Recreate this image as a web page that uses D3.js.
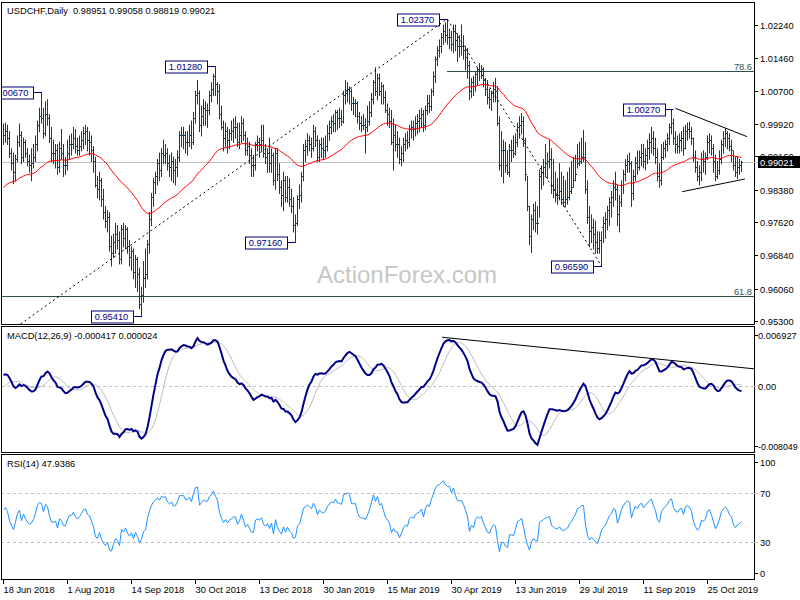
<!DOCTYPE html>
<html><head><meta charset="utf-8">
<script src="https://cdn.jsdelivr.net/npm/d3@7/dist/d3.min.js"></script>
<style>body{margin:0;background:#fff}svg{display:block}text{font-family:"Liberation Sans",Arial,sans-serif}</style>
</head><body><svg id="c" width="800" height="600"></svg>
<script>
// ---------- DATA (daily USDCHF, 18 Jun 2018 .. 19 Nov 2019) ----------
const high=[
.9993,.9995,.9990,.9975,.9935,.9925,.9920,.9965,.9993,.9975,
.9960,.9955,.9935,.9920,.9935,.9945,.9965,1.0000,1.0030,1.0067,
1.0030,1.0045,1.0050,1.0015,.9985,.9955,.9945,.9945,.9950,.9980,
.9945,.9915,.9955,.9965,.9970,.9985,.9980,.9960,.9965,.9975,
.9985,.9990,.9985,.9975,.9965,.9940,.9915,.9870,.9880,.9865,
.9840,.9800,.9790,.9785,.9730,.9735,.9760,.9755,.9740,.9755,
.9760,.9755,.9750,.9720,.9705,.9700,.9685,.9680,.9655,.9610,
.9670,.9700,.9720,.9785,.9830,.9865,.9880,.9910,.9925,.9935,
.9955,.9945,.9935,.9920,.9925,.9915,.9910,.9930,.9975,.9985,
.9985,.9975,.9975,.9990,1.0000,1.0020,1.0070,1.0095,1.0070,1.0035,
1.0050,1.0045,1.0040,1.0070,1.0090,1.0110,1.0128,1.0090,1.0085,1.0035,
1.0000,.9995,.9985,.9980,1.0000,1.0005,1.0010,.9995,.9995,1.0010,
1.0005,.9975,.9960,.9950,.9935,.9920,.9950,.9965,.9960,.9990,
.9990,.9945,.9935,.9960,.9935,.9925,.9935,.9935,.9900,.9860,
.9880,.9870,.9870,.9865,.9840,.9820,.9780,.9825,.9850,.9880,
.9945,.9955,.9970,.9965,.9960,.9990,.9985,.9965,.9955,.9960,
.9960,.9965,.9990,1.0000,1.0010,1.0015,1.0025,1.0025,1.0030,1.0025,
1.0070,1.0095,1.0090,1.0080,1.0075,1.0055,1.0050,1.0045,1.0020,1.0010,
1.0015,1.0005,1.0035,1.0045,1.0065,1.0095,1.0125,1.0110,1.0110,1.0090,
1.0085,1.0070,1.0040,1.0030,1.0025,1.0005,.9990,.9975,.9960,.9940,
.9960,.9970,.9975,.9990,1.0000,1.0000,1.0010,1.0015,1.0025,1.0030,
1.0025,1.0035,1.0060,1.0060,1.0075,1.0115,1.0150,1.0175,1.0190,1.0205,
1.0225,1.0230,1.0237,1.0215,1.0210,1.0225,1.0225,1.0205,1.0200,1.0225,
1.0200,1.0175,1.0170,1.0140,1.0100,1.0105,1.0115,1.0125,1.0135,1.0130,
1.0125,1.0100,1.0095,1.0075,1.0070,1.0090,1.0100,1.0080,1.0010,.9975,
.9955,.9950,.9930,.9945,.9955,.9965,.9970,.9995,1.0010,1.0018,
1.0010,.9960,.9870,.9800,.9780,.9805,.9810,.9800,.9885,.9895,
.9910,.9945,.9925,.9955,.9935,.9910,.9880,.9865,.9900,.9880,
.9870,.9860,.9880,.9890,.9905,.9915,.9920,.9945,.9950,.9960,
.9978,.9950,.9860,.9800,.9780,.9770,.9765,.9740,.9740,.9740,
.9775,.9785,.9800,.9820,.9835,.9860,.9880,.9850,.9825,.9860,
.9885,.9910,.9920,.9925,.9905,.9885,.9915,.9930,.9930,.9945,
.9945,.9935,.9955,.9970,.9985,.9975,.9960,.9935,.9900,.9945,
.9950,.9955,.9970,.9993,1.0027,1.0005,.9975,.9965,.9970,.9975,
.9985,.9990,.9995,.9997,.9985,.9960,.9930,.9905,.9895,.9925,
.9930,.9925,.9965,.9970,.9965,.9945,.9920,.9905,.9930,.9955,
.9975,.9982,.9975,.9970,.9955,.9930,.9915,.9915,.9910,.99058];
const low=[
.9945,.9950,.9945,.9915,.9885,.9853,.9860,.9905,.9940,.9900,
.9905,.9915,.9895,.9880,.9860,.9890,.9905,.9930,.9975,.9995,
.9960,.9965,.9990,.9950,.9905,.9900,.9890,.9875,.9880,.9910,
.9870,.9875,.9885,.9910,.9920,.9935,.9925,.9920,.9920,.9930,
.9935,.9945,.9930,.9920,.9905,.9880,.9845,.9820,.9815,.9800,
.9770,.9750,.9740,.9695,.9660,.9680,.9690,.9700,.9665,.9665,
.9705,.9700,.9690,.9660,.9650,.9630,.9610,.9600,.9560,.9541,
.9575,.9610,.9630,.9690,.9755,.9800,.9830,.9850,.9860,.9870,
.9900,.9900,.9885,.9870,.9860,.9855,.9850,.9870,.9905,.9940,
.9935,.9925,.9920,.9940,.9935,.9945,.9995,1.0040,.9975,.9965,
.9990,.9990,.9985,1.0015,1.0045,1.0060,1.0060,1.0040,1.0005,.9980,
.9930,.9940,.9925,.9935,.9955,.9950,.9960,.9940,.9935,.9950,
.9955,.9920,.9920,.9900,.9870,.9870,.9885,.9930,.9915,.9930,
.9915,.9900,.9880,.9880,.9880,.9850,.9840,.9860,.9830,.9800,
.9790,.9810,.9810,.9800,.9785,.9740,.9716,.9755,.9795,.9810,
.9860,.9905,.9920,.9930,.9915,.9930,.9940,.9905,.9905,.9915,
.9910,.9915,.9930,.9955,.9970,.9975,.9975,.9980,.9985,.9990,
.9995,1.0040,1.0045,1.0040,1.0025,1.0015,1.0010,.9995,.9980,.9975,
.9980,.9925,.9975,.9990,1.0010,1.0040,1.0060,1.0050,1.0060,1.0040,
1.0040,1.0020,.9990,.9985,.9945,.9885,.9930,.9915,.9900,.9895,
.9905,.9930,.9935,.9940,.9960,.9955,.9965,.9970,.9975,.9985,
.9975,.9980,1.0015,1.0020,1.0025,1.0060,1.0090,1.0130,1.0150,1.0160,
1.0180,1.0185,1.0180,1.0170,1.0165,1.0160,1.0165,1.0140,1.0150,1.0155,
1.0145,1.0120,1.0100,1.0050,1.0055,1.0060,1.0070,1.0085,1.0095,1.0100,
1.0080,1.0060,1.0040,1.0030,1.0025,1.0045,1.0045,.9990,.9885,.9870,
.9855,.9880,.9875,.9870,.9905,.9915,.9920,.9940,.9960,.9970,
.9940,.9860,.9790,.9710,.9692,.9745,.9740,.9735,.9775,.9840,
.9850,.9870,.9865,.9890,.9830,.9820,.9810,.9805,.9815,.9805,
.9800,.9800,.9805,.9815,.9830,.9845,.9860,.9890,.9895,.9900,
.9905,.9830,.9760,.9705,.9715,.9700,.9690,.9690,.9690,.9659,
.9715,.9725,.9745,.9755,.9775,.9800,.9815,.9755,.9740,.9800,
.9830,.9860,.9880,.9880,.9800,.9815,.9860,.9875,.9885,.9895,
.9890,.9885,.9900,.9910,.9925,.9920,.9900,.9860,.9845,.9850,
.9910,.9915,.9930,.9945,.9970,.9945,.9925,.9925,.9925,.9930,
.9920,.9935,.9955,.9960,.9945,.9905,.9880,.9860,.9850,.9860,
.9880,.9875,.9910,.9925,.9920,.9880,.9860,.9865,.9875,.9900,
.9925,.9940,.9935,.9930,.9905,.9885,.9870,.9865,.9875,.98819];
const close=[
.9965,.9975,.9960,.9925,.9900,.9880,.9910,.9950,.9965,.9915,
.9950,.9925,.9905,.9895,.9900,.9915,.9945,.9990,1.0010,1.0005,
.9970,1.0015,1.0005,.9960,.9925,.9925,.9930,.9890,.9935,.9925,
.9895,.9895,.9925,.9945,.9945,.9960,.9940,.9930,.9940,.9955,
.9970,.9975,.9955,.9950,.9930,.9905,.9850,.9840,.9860,.9815,
.9785,.9765,.9775,.9705,.9690,.9715,.9735,.9720,.9675,.9745,
.9725,.9745,.9705,.9680,.9695,.9645,.9675,.9640,.9570,.9590,
.9630,.9640,.9710,.9770,.9820,.9855,.9870,.9900,.9885,.9925,
.9920,.9925,.9900,.9890,.9905,.9885,.9890,.9915,.9965,.9965,
.9965,.9950,.9950,.9965,.9950,1.0005,1.0060,1.0065,.9990,1.0010,
1.0030,1.0025,1.0025,1.0060,1.0075,1.0105,1.0085,1.0070,1.0015,.9985,
.9960,.9975,.9955,.9970,.9975,.9985,.9985,.9950,.9965,.9995,
.9965,.9930,.9940,.9920,.9895,.9895,.9945,.9950,.9945,.9955,
.9925,.9915,.9925,.9900,.9920,.9860,.9925,.9875,.9845,.9825,
.9860,.9820,.9845,.9815,.9800,.9755,.9760,.9815,.9825,.9870,
.9930,.9940,.9955,.9945,.9935,.9975,.9955,.9915,.9945,.9935,
.9930,.9940,.9970,.9985,1.0000,.9995,1.0020,1.0005,1.0005,1.0000,
1.0060,1.0065,1.0075,1.0070,1.0040,1.0040,1.0040,1.0010,.9995,.9990,
.9990,.9985,1.0000,1.0020,1.0050,1.0090,1.0070,1.0100,1.0070,1.0080,
1.0055,1.0025,1.0015,1.0000,.9950,.9965,.9945,.9945,.9910,.9925,
.9945,.9955,.9950,.9980,.9985,.9980,.9995,1.0000,1.0005,1.0015,
.9990,1.0025,1.0040,1.0035,1.0070,1.0105,1.0145,1.0165,1.0175,1.0195,
1.0210,1.0200,1.0195,1.0195,1.0180,1.0210,1.0190,1.0175,1.0175,1.0175,
1.0165,1.0150,1.0130,1.0070,1.0090,1.0080,1.0110,1.0120,1.0115,1.0120,
1.0095,1.0075,1.0055,1.0050,1.0065,1.0075,1.0070,.9995,.9895,.9930,
.9930,.9895,.9880,.9930,.9930,.9925,.9950,.9985,.9990,1.0000,
.9955,.9875,.9800,.9730,.9770,.9790,.9760,.9760,.9870,.9880,
.9890,.9900,.9905,.9910,.9850,.9840,.9825,.9825,.9835,.9815,
.9810,.9815,.9820,.9835,.9845,.9860,.9875,.9900,.9905,.9915,
.9915,.9840,.9775,.9740,.9750,.9735,.9715,.9700,.9720,.9750,
.9760,.9770,.9790,.9810,.9820,.9845,.9840,.9780,.9810,.9850,
.9875,.9895,.9905,.9900,.9830,.9870,.9900,.9890,.9915,.9925,
.9905,.9920,.9935,.9950,.9960,.9935,.9915,.9870,.9860,.9915,
.9935,.9945,.9960,.9985,.9995,.9960,.9945,.9940,.9955,.9960,
.9935,.9975,.9980,.9975,.9960,.9915,.9890,.9870,.9880,.9910,
.9905,.9915,.9950,.9955,.9935,.9905,.9870,.9885,.9910,.9945,
.9960,.9970,.9960,.9940,.9930,.9895,.9880,.9890,.9895,.99021];

// indicator warm-up values read at the chart's left edge
const maPeriod=55, maSeed=0.9838;
const macdFast=12, macdSlow=26, macdSig=9, emaFastSeed=0.99515, emaSlowSeed=0.99385, signalSeed=-0.0003;
const rsiPeriod=14, rsiGainSeed=0.00115, rsiLossSeed=0.00090;

const dateLabels=["18 Jun 2018","1 Aug 2018","14 Sep 2018","30 Oct 2018","13 Dec 2018","30 Jan 2019","15 Mar 2019","30 Apr 2019","13 Jun 2019","29 Jul 2019","11 Sep 2019","25 Oct 2019"];
const dateLabelIdx=[0,32,64,96,128,160,192,224,256,288,320,352];
const priceTicks=[1.0224,1.0146,1.0070,0.9992,0.9916,0.9838,0.9762,0.9684,0.9606,0.9530];
const lastPrice=0.99021;
const swingIdx=[19,69,106,146,222,299,335];
const swingVal=[1.0067,0.9541,1.0128,0.9716,1.0237,0.9659,1.0027];
const fibLevels=[1.0116,0.9589], fibNames=["78.6","61.8"], fibStart=[222,0];
const trendA=[[8.5,0.9523],[221.5,1.0237]];
const trendB=[[222,1.0237],[299,0.9659]];
const triUpper=[[336,1.00286],[371.8,0.99622]];
const triLower=[[339.3,0.98332],[370.7,0.98629]];
const macdTrend=[[219.3,0.00592],[376,0.00205]];
const macdLabels=["0.006927","0.00","-0.008049"], macdLabelVal=[0.006927,0,-0.008049];
const rsiTicks=[100,70,30,0];

// ---------- INDICATORS ----------
function ema(src,n,seed){const k=2/(n+1);let e=seed;return src.map(v=>(e=e+k*(v-e)));}
const ma=ema(close,maPeriod,maSeed);
const eF=ema(close,macdFast,emaFastSeed), eS=ema(close,macdSlow,emaSlowSeed);
const macd=eF.map((v,i)=>v-eS[i]);
const signal=macd.map((v,i)=>{let s=0;for(let j=i-macdSig+1;j<=i;j++)s+=(j<0?signalSeed:macd[j]);return s/macdSig;});
const rsi=[];{let g=rsiGainSeed,l=rsiLossSeed;for(let i=0;i<close.length;i++){const d=i?close[i]-close[i-1]:0;g=(g*(rsiPeriod-1)+Math.max(d,0))/rsiPeriod;l=(l*(rsiPeriod-1)+Math.max(-d,0))/rsiPeriod;rsi.push(l===0?100:100-100/(1+g/l));}}

// ---------- LAYOUT ----------
const svg=d3.select("#c");
const P={l:1,r:754,mainT:2,mainB:324,macdT:326,macdB:452,rsiT:454,rsiB:579};
const x=d3.scaleLinear().domain([0,1]).range([3,5]);
const y=d3.scaleLinear().domain([0.9530,1.0224]).range([321,25]);
const ym=d3.scaleLinear().domain([-0.008049,0.006927]).range([451.7,329]);
const yr=d3.scaleLinear().domain([0,100]).range([P.rsiB,P.rsiT+1.5]);
const barColor="#0f3d5c";
const fs=9.3;

const defs=svg.append("defs");
[["cm",P.mainT,P.mainB],["cd",P.macdT,P.macdB],["cr",P.rsiT,P.rsiB]].forEach(([id,t,b])=>{
 defs.append("clipPath").attr("id",id).append("rect").attr("x",P.l).attr("y",t).attr("width",P.r-P.l).attr("height",b-t);});

svg.append("text").attr("x",317).attr("y",283).attr("font-size",24).attr("fill","#c6c6c6").text("ActionForex.com");

const gm=svg.append("g").attr("clip-path","url(#cm)");
gm.append("line").attr("x1",P.l).attr("x2",P.r).attr("y1",Math.round(y(lastPrice))+0.5).attr("y2",Math.round(y(lastPrice))+0.5).attr("stroke","#c0c0c0");
fibLevels.forEach((v,k)=>{const yy=Math.round(y(v))+0.5;
 gm.append("line").attr("x1",fibStart[k]?x(fibStart[k]):P.l).attr("x2",P.r).attr("y1",yy).attr("y2",yy).attr("stroke","#2f4f4f");
 gm.append("text").attr("x",P.r-2).attr("y",yy-2).attr("text-anchor","end").attr("font-size",fs).attr("fill","#2f4f4f").text(fibNames[k]);});
gm.append("g").selectAll("line").data(close).join("line")
 .attr("x1",(d,i)=>x(i)+0.5).attr("x2",(d,i)=>x(i)+0.5)
 .attr("y1",(d,i)=>y(high[i])).attr("y2",(d,i)=>y(low[i])+1)
 .attr("stroke",barColor).attr("stroke-width",1);
gm.append("g").selectAll("line").data(close).join("line")
 .attr("x1",(d,i)=>x(i)+1).attr("x2",(d,i)=>x(i)+2)
 .attr("y1",d=>Math.round(y(d))+0.5).attr("y2",d=>Math.round(y(d))+0.5)
 .attr("stroke",barColor).attr("stroke-width",1);
gm.append("path").attr("d",d3.line().x((d,i)=>x(i)+0.5).y(d=>y(d))(ma)).attr("fill","none").attr("stroke","#ff0000").attr("stroke-width",1);
const tl=d3.line().x(d=>x(d[0])+0.5).y(d=>y(d[1]));
[trendA,trendB].forEach(t=>gm.append("path").attr("d",tl(t)).attr("fill","none").attr("stroke","#000").attr("stroke-dasharray","2,3"));
[triUpper,triLower].forEach(t=>gm.append("path").attr("d",tl(t)).attr("fill","none").attr("stroke","#000"));
swingIdx.forEach((idx,k)=>{const v=swingVal[k],bx=x(idx)+0.5,yy=Math.round(y(v))+0.5,w=42,h=12,rx=bx-9;
 gm.append("line").attr("x1",rx).attr("x2",bx).attr("y1",yy).attr("y2",yy).attr("stroke","#000080");
 gm.append("rect").attr("x",Math.round(rx-w)+0.5).attr("y",Math.round(yy-h/2)).attr("width",w).attr("height",h).attr("fill","#fff").attr("stroke","#000080");
 gm.append("text").attr("x",rx-w/2).attr("y",yy+3.5).attr("text-anchor","middle").attr("font-size",fs).attr("fill","#000080").text(v.toFixed(5));});

const gd=svg.append("g").attr("clip-path","url(#cd)");
gd.append("line").attr("x1",P.l).attr("x2",P.r).attr("y1",Math.round(ym(0))+0.5).attr("y2",Math.round(ym(0))+0.5).attr("stroke","#c0c0c0").attr("stroke-dasharray","3,3");
gd.append("path").attr("d",d3.line().x((d,i)=>x(i)+0.5).y(d=>ym(d))(signal)).attr("fill","none").attr("stroke","#bdbdbd").attr("stroke-width",1);
gd.append("path").attr("d",d3.line().x((d,i)=>x(i)+0.5).y(d=>ym(d))(macd)).attr("fill","none").attr("stroke","#00008b").attr("stroke-width",2);
gd.append("path").attr("d",d3.line().x(d=>x(d[0])+0.5).y(d=>ym(d[1]))(macdTrend)).attr("fill","none").attr("stroke","#000");

const gr=svg.append("g").attr("clip-path","url(#cr)");
[70,30].forEach(v=>gr.append("line").attr("x1",P.l).attr("x2",P.r).attr("y1",Math.round(yr(v))+0.5).attr("y2",Math.round(yr(v))+0.5).attr("stroke","#c0c0c0").attr("stroke-dasharray","3,3"));
gr.append("path").attr("d",d3.line().x((d,i)=>x(i)+0.5).y(d=>yr(d))(rsi)).attr("fill","none").attr("stroke","#1e90ff").attr("stroke-width",1);

[[P.mainT,P.mainB],[P.macdT,P.macdB],[P.rsiT,P.rsiB]].forEach(([t,b])=>
 svg.append("rect").attr("x",P.l+0.5).attr("y",t+0.5).attr("width",P.r-P.l).attr("height",b-t).attr("fill","none").attr("stroke","#000"));

const ra=svg.append("g");
priceTicks.forEach(v=>{const yy=Math.round(y(v))+0.5;
 ra.append("line").attr("x1",P.r).attr("x2",P.r+4).attr("y1",yy).attr("y2",yy).attr("stroke","#000");
 ra.append("text").attr("x",P.r+6).attr("y",yy+3.3).attr("font-size",fs).attr("fill","#000").text(v.toFixed(5));});
{const yy=Math.round(y(lastPrice))+0.5;
 ra.append("line").attr("x1",P.r).attr("x2",P.r+4).attr("y1",yy).attr("y2",yy).attr("stroke","#c0c0c0");
 ra.append("rect").attr("x",P.r+4).attr("y",yy-6.5).attr("width",42).attr("height",12).attr("fill","#000");
 ra.append("text").attr("x",P.r+6).attr("y",yy+3.3).attr("font-size",fs).attr("fill","#fff").text(lastPrice.toFixed(5));}
macdLabelVal.forEach((v,k)=>{let yy=Math.round(ym(v))+0.5; const ty=k===0?yy+6:(k===2?yy-6:yy);
 ra.append("line").attr("x1",P.r).attr("x2",P.r+4).attr("y1",ty).attr("y2",ty).attr("stroke",k===1?"#c0c0c0":"#000").attr("stroke-dasharray",k===1?"2,2":null);
 ra.append("text").attr("x",P.r+4).attr("y",ty+3.3).attr("font-size",k===2?8.8:fs).attr("fill","#000").text(macdLabels[k]);});
rsiTicks.forEach(v=>{let yy=Math.round(yr(v))+0.5; const ty=v===100?yy+6:(v===0?yy-6:yy);
 ra.append("line").attr("x1",P.r).attr("x2",P.r+4).attr("y1",ty).attr("y2",ty).attr("stroke",(v===70||v===30)?"#c0c0c0":"#000");
 ra.append("text").attr("x",P.r+6).attr("y",ty+3.3).attr("font-size",fs).attr("fill","#000").text(v);});

dateLabelIdx.forEach((idx,k)=>{const xx=Math.round(x(idx))+0.5;
 svg.append("line").attr("x1",xx).attr("x2",xx).attr("y1",P.rsiB).attr("y2",P.rsiB+5).attr("stroke","#000");
 svg.append("text").attr("x",xx).attr("y",P.rsiB+14).attr("font-size",fs).attr("fill","#000").text(dateLabels[k]);});

svg.append("text").attr("x",7).attr("y",14).attr("font-size",fs).attr("fill","#000").attr("xml:space","preserve").text("USDCHF,Daily  0.98951 0.99058 0.98819 0.99021");
svg.append("text").attr("x",7).attr("y",339).attr("font-size",fs).attr("fill","#000").text("MACD(12,26,9) "+(-0.000417).toFixed(6)+" "+(0.000024).toFixed(6));
svg.append("text").attr("x",7).attr("y",467).attr("font-size",fs).attr("fill","#000").text("RSI(14) "+(47.9386).toFixed(4));
</script></body></html>
